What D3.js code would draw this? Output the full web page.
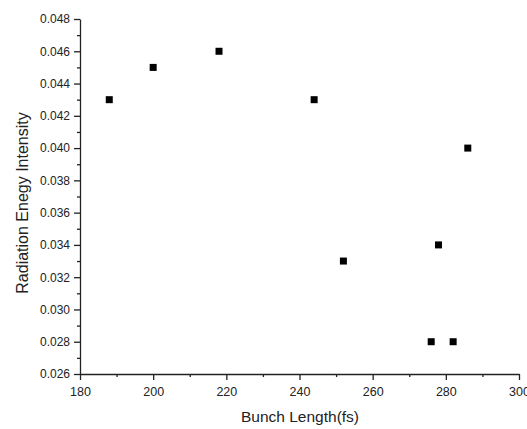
<!DOCTYPE html>
<html>
<head>
<meta charset="utf-8">
<script src="https://cdn.jsdelivr.net/npm/d3@7"></script>
<style>
  body { margin: 0; background: #fff; }
  text { font-family: "Liberation Sans", Arial, sans-serif; fill: #222; }
</style>
</head>
<body>
<svg width="527" height="429"></svg>
<script>
const bunchLength = [188, 200, 218, 244, 252, 276, 278, 282, 286]
const intensity = [0.043, 0.045, 0.046, 0.043, 0.033, 0.028, 0.034, 0.028, 0.040]
const xTicks = [180, 200, 220, 240, 260, 280, 300]
const yTicks = [0.026, 0.028, 0.030, 0.032, 0.034, 0.036, 0.038, 0.040, 0.042, 0.044, 0.046, 0.048]

let svg = d3.select('svg')
let plotLeft = 80, plotRight = 519, plotTop = 19, plotBottom = 374

let x = d3.scaleLinear().domain([180, 300]).range([plotLeft, plotRight])
let y = d3.scaleLinear().domain([0.026, 0.048]).range([plotBottom, plotTop])

// minor ticks
let xMinor = d3.range(190, 300, 20)
let yMinor = d3.range(0.027, 0.048, 0.002)

svg.append('g').attr('transform', 'translate(0,' + plotBottom + ')')
    .call(d3.axisBottom(x).tickValues(xMinor).tickSize(3).tickFormat(''))
    .call(g => g.select('.domain').remove())
svg.append('g').attr('transform', 'translate(' + plotLeft + ',0)')
    .call(d3.axisLeft(y).tickValues(yMinor).tickSize(3).tickFormat(''))
    .call(g => g.select('.domain').remove())

let xAxis = svg.append('g').attr('transform', 'translate(0,' + plotBottom + ')')
    .call(d3.axisBottom(x).tickValues(xTicks).tickSize(6).tickSizeOuter(0).tickPadding(7).tickFormat(d3.format('d')))
let yAxis = svg.append('g').attr('transform', 'translate(' + plotLeft + ',0)')
    .call(d3.axisLeft(y).tickValues(yTicks).tickSize(6).tickSizeOuter(0).tickPadding(4).tickFormat(d3.format('.3f')))

svg.selectAll('.domain, .tick line').attr('stroke', '#222').attr('stroke-width', 1.3)
xAxis.selectAll('text').attr('font-size', 12.5)
yAxis.selectAll('text').attr('font-size', 12)

let pts = bunchLength.map((d, i) => ({x: d, y: intensity[i]}))
svg.selectAll('rect.pt')
    .data(pts)
    .enter()
    .append('rect')
    .attr('class', 'pt')
    .attr('x', d => x(d.x) - 3.5)
    .attr('y', d => y(d.y) - 3.5)
    .attr('width', 7)
    .attr('height', 7)
    .attr('fill', '#000')

svg.append('text')
    .attr('x', 300)
    .attr('y', 422)
    .attr('text-anchor', 'middle')
    .attr('font-size', 15.5)
    .text('Bunch Length(fs)')

svg.append('text')
    .attr('transform', 'translate(28,203) rotate(-90)')
    .attr('text-anchor', 'middle')
    .attr('font-size', 16)
    .text('Radiation Enegy Intensity')
</script>
</body>
</html>
